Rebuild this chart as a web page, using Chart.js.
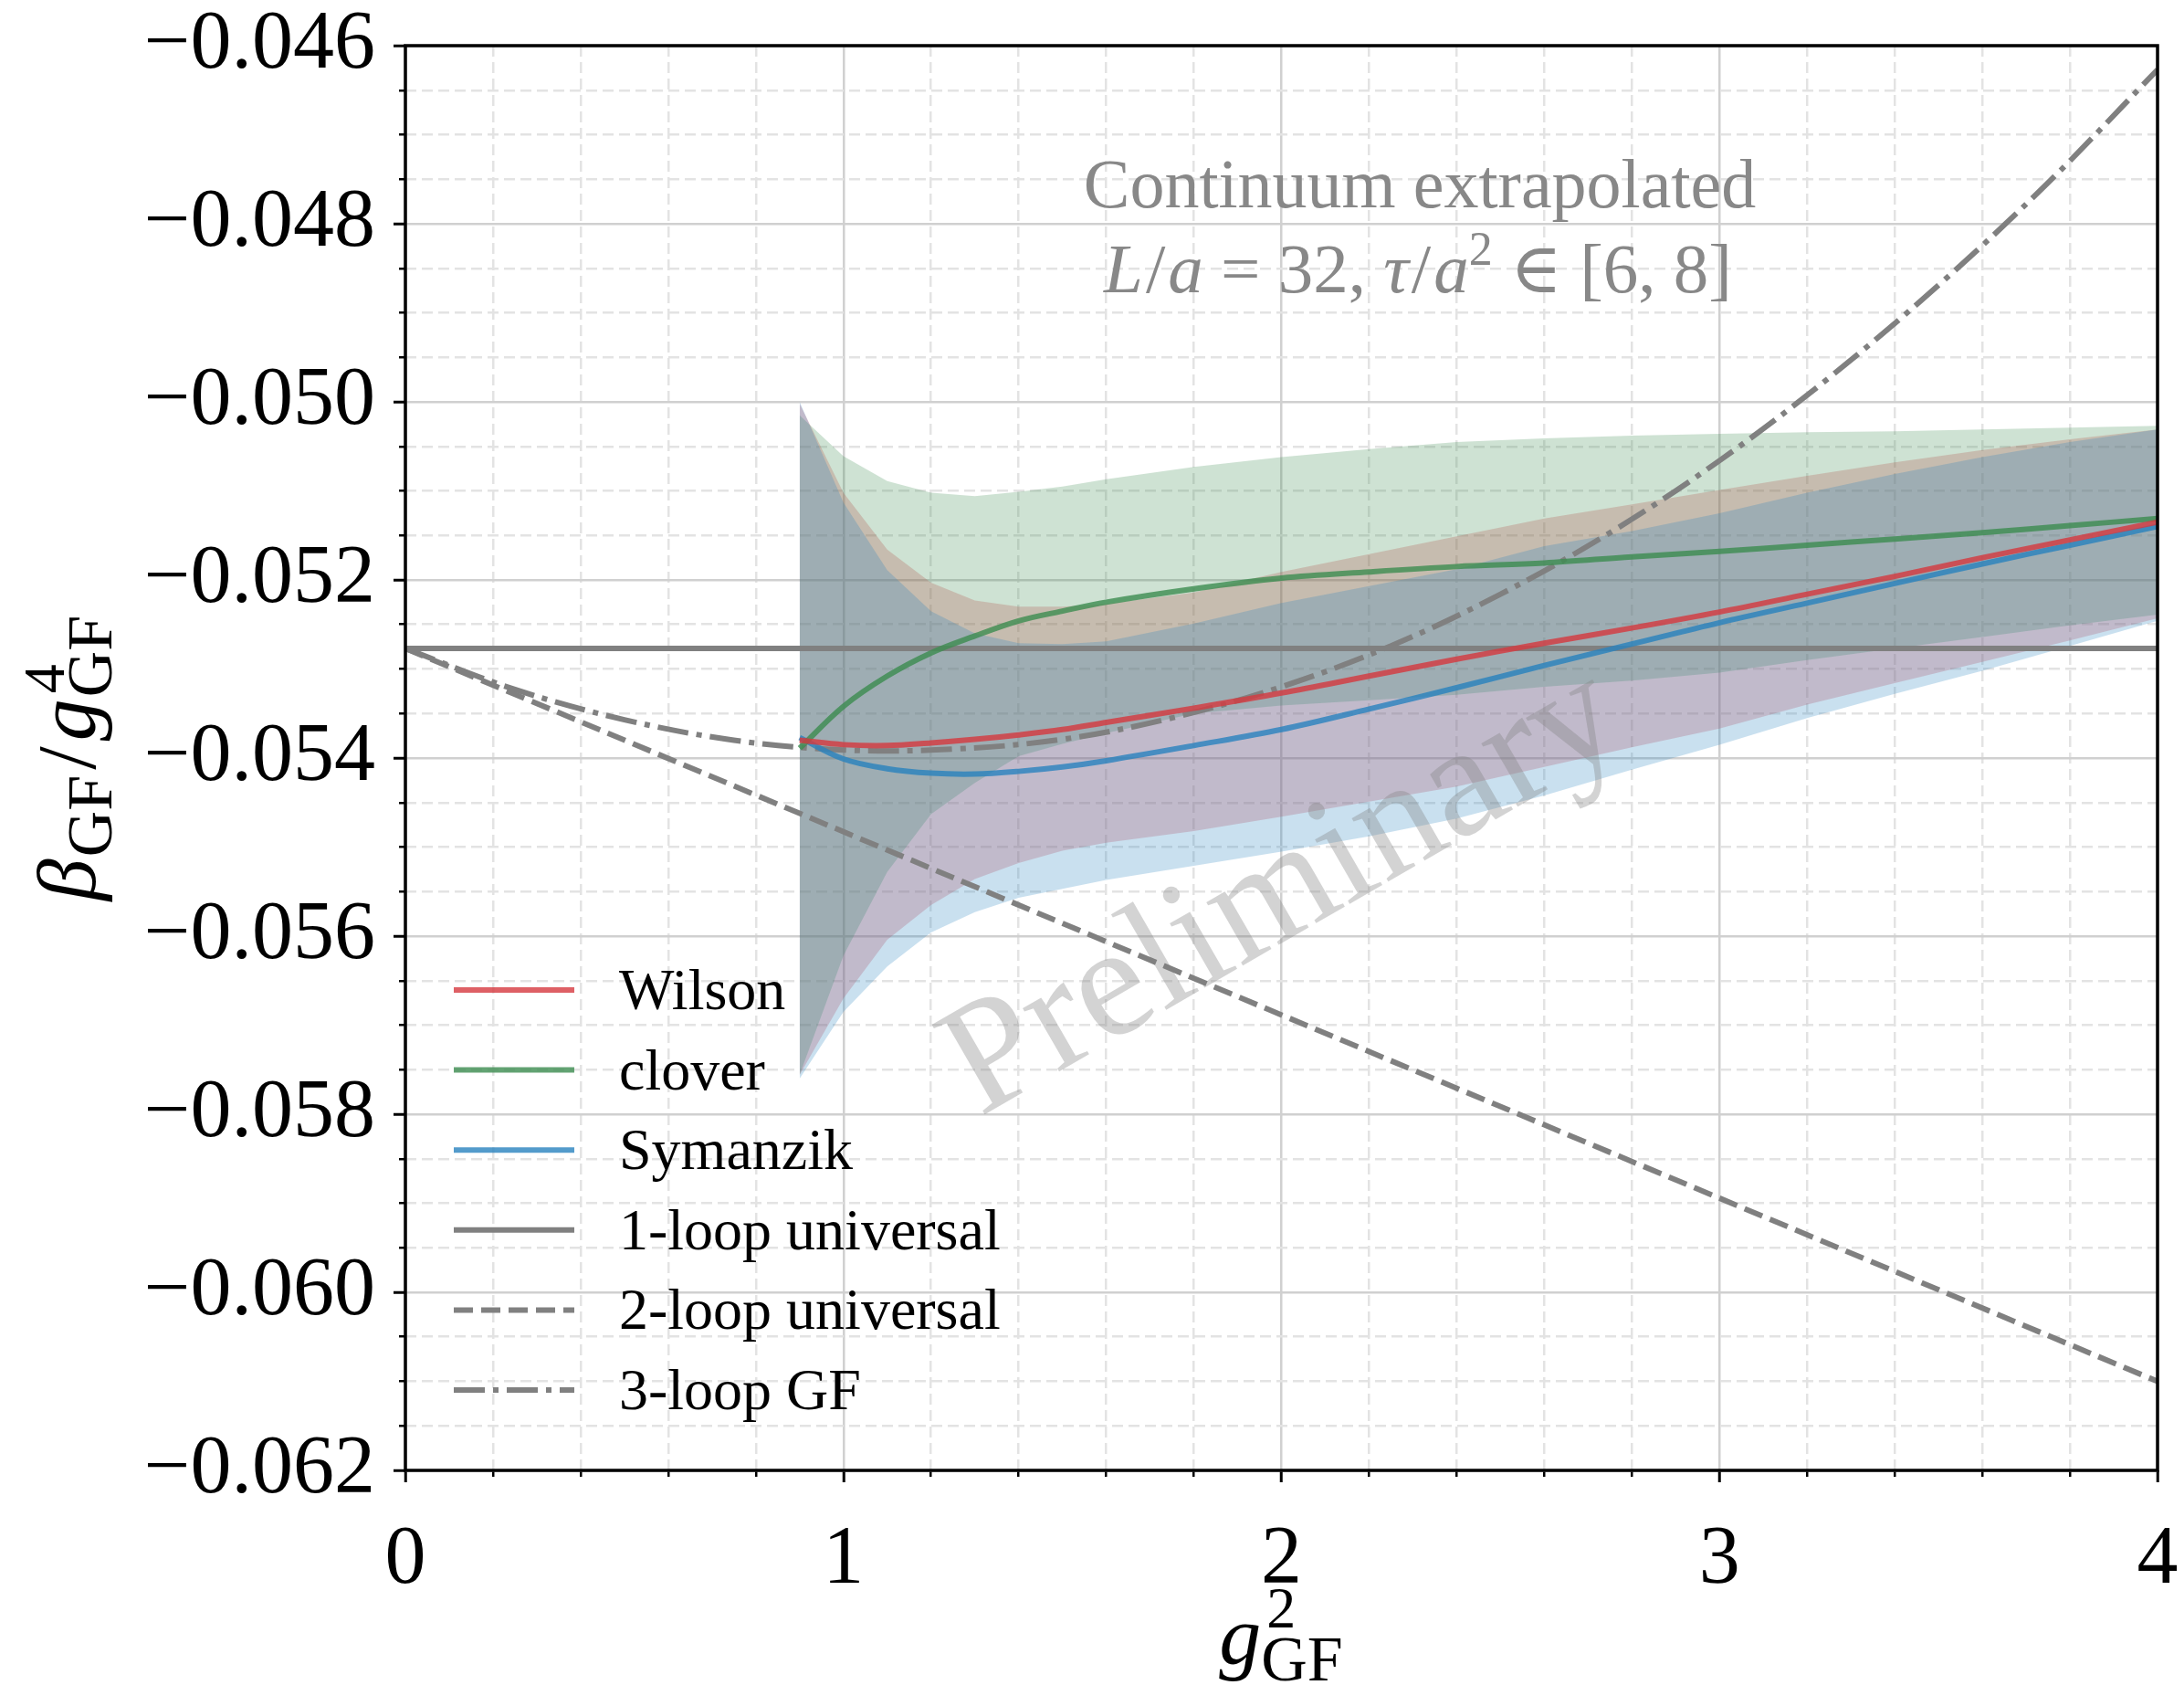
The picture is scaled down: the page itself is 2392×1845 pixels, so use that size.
<!DOCTYPE html>
<html>
<head>
<meta charset="utf-8">
<script src="https://cdn.jsdelivr.net/npm/chart.js@4.4.0/dist/chart.umd.min.js"></script>
<style>
  html, body { margin: 0; padding: 0; background: #fff; }
  canvas { display: block; }
</style>
</head>
<body>
<canvas id="betaChart" width="2392" height="1845"></canvas>
<script>
// 横軸 g^2_GF の点
var gsq = [0.9, 1.0, 1.1, 1.2, 1.3, 1.4, 1.5, 1.6, 1.8, 2.0, 2.2, 2.4, 2.6, 2.8, 3.0, 3.2, 3.4, 3.6, 3.8, 4.0];

// Wilson (中心値と誤差帯の上下)
var wilson   = [-0.05380, -0.05385, -0.05386, -0.05383, -0.05379, -0.05374, -0.05368, -0.05360, -0.05344, -0.05327, -0.05308, -0.05289, -0.05271, -0.05254, -0.05236, -0.05216, -0.05196, -0.05175, -0.05155, -0.05135];
var wilsonHi = [-0.05002, -0.05102, -0.05166, -0.05203, -0.05223, -0.05230, -0.05230, -0.05227, -0.05214, -0.05191, -0.05171, -0.05151, -0.05131, -0.05115, -0.05099, -0.05083, -0.05068, -0.05054, -0.05042, -0.05031];
var wilsonLo = [-0.05756, -0.05670, -0.05604, -0.05565, -0.05536, -0.05518, -0.05504, -0.05495, -0.05482, -0.05466, -0.05449, -0.05432, -0.05410, -0.05388, -0.05367, -0.05340, -0.05316, -0.05292, -0.05268, -0.05243];

// clover
var clover   = [-0.05389, -0.05342, -0.05308, -0.05282, -0.05263, -0.05246, -0.05235, -0.05225, -0.05210, -0.05198, -0.05191, -0.05185, -0.05181, -0.05174, -0.05168, -0.05161, -0.05154, -0.05147, -0.05139, -0.05131];
var cloverHi = [-0.05015, -0.05061, -0.05089, -0.05102, -0.05106, -0.05101, -0.05095, -0.05087, -0.05073, -0.05062, -0.05053, -0.05045, -0.05041, -0.05038, -0.05036, -0.05034, -0.05033, -0.05031, -0.05029, -0.05027];
var cloverLo = [-0.05756, -0.05622, -0.05528, -0.05463, -0.05428, -0.05398, -0.05384, -0.05372, -0.05350, -0.05341, -0.05335, -0.05329, -0.05320, -0.05313, -0.05304, -0.05290, -0.05277, -0.05264, -0.05251, -0.05239];

// Symanzik
var symanzik   = [-0.05377, -0.05401, -0.05412, -0.05417, -0.05418, -0.05415, -0.05410, -0.05403, -0.05386, -0.05368, -0.05345, -0.05321, -0.05296, -0.05272, -0.05248, -0.05226, -0.05204, -0.05182, -0.05161, -0.05140];
var symanzikHi = [-0.05000, -0.05113, -0.05189, -0.05235, -0.05260, -0.05271, -0.05272, -0.05269, -0.05249, -0.05226, -0.05207, -0.05188, -0.05162, -0.05145, -0.05125, -0.05102, -0.05081, -0.05062, -0.05045, -0.05031];
var symanzikLo = [-0.05760, -0.05685, -0.05634, -0.05596, -0.05573, -0.05557, -0.05547, -0.05537, -0.05521, -0.05505, -0.05488, -0.05468, -0.05442, -0.05413, -0.05385, -0.05355, -0.05328, -0.05302, -0.05274, -0.05246];

// 摂動論
var pertX   = [0, 4];
var oneLoop = [-0.05277, -0.05277];
var twoLoop = [-0.05277, -0.06100];
var threeX    = [0, 0.25, 0.5, 0.75, 1.0, 1.25, 1.5, 1.75, 2.0, 2.25, 2.5, 2.75, 3.0, 3.25, 3.5, 3.75, 4.0];
var threeLoop = [-0.05277, -0.05323, -0.05357, -0.05380, -0.05391, -0.05390, -0.05379, -0.05355, -0.05320, -0.05274, -0.05216, -0.05147, -0.05066, -0.04973, -0.04869, -0.04754, -0.04627];

// 目盛り
var xTicks = [0, 1, 2, 3, 4];
var yTicks = [-0.062, -0.060, -0.058, -0.056, -0.054, -0.052, -0.050, -0.048, -0.046];

var SERIF = '"Liberation Serif", "DejaVu Serif", serif';
var RED   = 'rgba(214,56,62,0.8)';
var GREEN = 'rgba(60,140,80,0.8)';
var BLUE  = 'rgba(40,130,190,0.8)';
var GRAY  = '#808080';

function pts(xs, ys) {
  return xs.map(function (x, i) { return { x: x, y: ys[i] }; });
}

function lineSet(label, xs, ys, color, dash, order) {
  return {
    label: label, data: pts(xs, ys),
    borderColor: color, borderWidth: 6, borderDash: dash || [],
    pointRadius: 0, fill: false, order: order,
    tension: 0.35
  };
}

// 誤差帯: 上側を次のデータセット(下側)まで塗る
function bandSets(ys1, ys2, color, order) {
  return [
    { isBand: true, data: pts(gsq, ys1), borderWidth: 0, pointRadius: 0,
      backgroundColor: color, fill: '+1', order: order, tension: 0 },
    { isBand: true, data: pts(gsq, ys2), borderWidth: 0, pointRadius: 0,
      fill: false, order: order, tension: 0 }
  ];
}

var datasets = [
  lineSet('Wilson', gsq, wilson, RED, null, 1),
  lineSet('clover', gsq, clover, GREEN, null, 1),
  lineSet('Symanzik', gsq, symanzik, BLUE, null, 1),
  lineSet('1-loop universal', pertX, oneLoop, GRAY, null, 2),
  lineSet('2-loop universal', pertX, twoLoop, GRAY, [21, 9], 2),
  lineSet('3-loop GF', threeX, threeLoop, GRAY, [34, 9, 6, 9], 2)
].concat(
  bandSets(symanzikHi, symanzikLo, 'rgba(40,130,190,0.25)', 10),
  bandSets(cloverHi, cloverLo, 'rgba(60,140,80,0.25)', 20),
  bandSets(wilsonHi, wilsonLo, 'rgba(214,56,62,0.25)', 30)
);

// 上付き・下付きを含むテキストを部品ごとに描く
function richText(ctx, parts, cx, baseY) {
  var total = 0;
  parts.forEach(function (p) {
    var items = p.stack || [p];
    p.w = 0;
    items.forEach(function (q) {
      ctx.font = q.font;
      p.w = Math.max(p.w, ctx.measureText(q.t).width + (q.dx || 0));
    });
    total += p.w + (p.gap || 0);
  });
  var x = cx - total / 2;
  ctx.textAlign = 'left';
  ctx.textBaseline = 'alphabetic';
  parts.forEach(function (p) {
    (p.stack || [p]).forEach(function (q) {
      ctx.font = q.font;
      ctx.fillText(q.t, x + (q.dx || 0), baseY + (q.dy || 0));
    });
    x += p.w + (p.gap || 0);
  });
}
function rm(s) { return s + 'px ' + SERIF; }
function it(s) { return 'italic ' + s + 'px ' + SERIF; }

var decorPlugin = {
  id: 'decor',
  afterDatasetsDraw: function (chart) {
    var ctx = chart.ctx, a = chart.chartArea;
    ctx.save();

    // 透かし
    ctx.save();
    ctx.translate(1429, 1018);
    ctx.rotate(-30 * Math.PI / 180);
    ctx.font = rm(174);
    ctx.fillStyle = 'rgba(128,128,128,0.35)';
    ctx.textAlign = 'center';
    ctx.textBaseline = 'alphabetic';
    ctx.fillText('Preliminary', 0, 0);
    ctx.restore();

    // 注記
    ctx.fillStyle = '#888888';
    ctx.font = rm(76);
    ctx.textAlign = 'center';
    ctx.textBaseline = 'alphabetic';
    ctx.fillText('Continuum extrapolated', 1555, 227);
    richText(ctx, [
      { t: 'L', font: it(77), gap: 3 }, { t: '/', font: rm(77), gap: 3 }, { t: 'a', font: it(77) },
      { t: ' = 32, ', font: rm(77) },
      { t: '\u03c4', font: it(77), gap: 3 }, { t: '/', font: rm(77), gap: 3 }, { t: 'a', font: it(77) },
      { t: '2', font: rm(52), dy: -30 },
      { t: ' \u2208 [6, 8]', font: rm(77) }
    ], 1553, 320);

    // 凡例
    var rows = chart.data.datasets.filter(function (d) { return !d.isBand; });
    rows.forEach(function (d, i) {
      var y = 1084 + i * 87.6;
      ctx.save();
      ctx.strokeStyle = d.borderColor;
      ctx.lineWidth = d.borderWidth;
      ctx.setLineDash(d.borderDash);
      ctx.beginPath();
      ctx.moveTo(497, y);
      ctx.lineTo(629, y);
      ctx.stroke();
      ctx.restore();
      ctx.fillStyle = '#000';
      ctx.font = rm(64);
      ctx.textAlign = 'left';
      ctx.fillText(d.label, 678, y + 21);
    });

    // 枠
    ctx.strokeStyle = '#000';
    ctx.lineWidth = 3.5;
    ctx.setLineDash([]);
    ctx.strokeRect(a.left, a.top, a.right - a.left, a.bottom - a.top);

    // 軸ラベル
    ctx.fillStyle = '#000';
    richText(ctx, [
      { t: 'g', font: it(92) },
      { stack: [{ t: '2', font: rm(64), dy: -40, dx: 6 }, { t: 'GF', font: rm(70), dy: 18 }] }
    ], 1403, 1822);

    ctx.save();
    ctx.translate(104, 830);
    ctx.rotate(-Math.PI / 2);
    richText(ctx, [
      { t: '\u03b2', font: it(92), gap: 2 },
      { t: 'GF', font: rm(70), dy: 18, gap: 6 },
      { t: '/', font: rm(92), gap: 6 },
      { t: 'g', font: it(92), gap: 2 },
      { stack: [{ t: '4', font: rm(64), dy: -34, dx: 4 }, { t: 'GF', font: rm(70), dy: 18 }] }
    ], 0, 0);
    ctx.restore();

    ctx.restore();
  }
};

function isMajorX(c) {
  return c.tick && Math.abs(c.tick.value - Math.round(c.tick.value)) < 1e-6;
}
function isMajorY(c) {
  return c.tick && Math.abs(c.tick.value / 0.002 - Math.round(c.tick.value / 0.002)) < 1e-6;
}

var chart = new Chart(document.getElementById('betaChart'), {
  type: 'line',
  data: { datasets: datasets },
  options: {
    responsive: false,
    animation: false,
    layout: { padding: { top: 50, right: 29, left: 0, bottom: 0 } },
    plugins: {
      legend: { display: false },
      tooltip: { enabled: false },
      filler: { propagate: false }
    },
    scales: {
      x: {
        type: 'linear', position: 'bottom', min: 0, max: 4, weight: 1,
        afterBuildTicks: function (s) { s.ticks = xTicks.map(function (v) { return { value: v }; }); },
        afterFit: function (s) { s.height = 235; s.paddingLeft = 0; s.paddingRight = 0; },
        grid: { color: '#d0d0d0', lineWidth: 2.5, tickLength: 13, tickColor: '#000', tickWidth: 3 },
        border: { display: false },
        ticks: {
          font: { family: SERIF, size: 90 }, color: '#000', padding: 32,
          autoSkip: false, maxRotation: 0,
          callback: function (v) { return String(v); }
        }
      },
      xMinor: {
        type: 'linear', position: 'bottom', min: 0, max: 4, weight: 0,
        afterFit: function (s) { s.height = 0; s.paddingLeft = 0; s.paddingRight = 0; },
        grid: {
          color: function (c) { return isMajorX(c) ? 'rgba(0,0,0,0)' : '#e3e3e3'; },
          tickColor: function (c) { return isMajorX(c) ? 'rgba(0,0,0,0)' : '#000'; },
          lineWidth: 2.5, tickLength: 7, tickWidth: 2.5
        },
        border: { display: false, dash: [12, 6] },
        ticks: { stepSize: 0.2, display: false }
      },
      y: {
        type: 'linear', position: 'left', min: -0.062, max: -0.046, weight: 1,
        afterBuildTicks: function (s) { s.ticks = yTicks.map(function (v) { return { value: v }; }); },
        afterFit: function (s) { s.width = 444; s.paddingTop = 0; s.paddingBottom = 0; },
        grid: { color: '#d0d0d0', lineWidth: 2.5, tickLength: 13, tickColor: '#000', tickWidth: 3 },
        border: { display: false },
        ticks: {
          font: { family: SERIF, size: 90 }, color: '#000', padding: 20, autoSkip: false,
          callback: function (v) { return '\u2212' + Math.abs(v).toFixed(3); }
        }
      },
      yMinor: {
        type: 'linear', position: 'left', min: -0.062, max: -0.046, weight: 0,
        afterFit: function (s) { s.width = 0; s.paddingTop = 0; s.paddingBottom = 0; },
        grid: {
          color: function (c) { return isMajorY(c) ? 'rgba(0,0,0,0)' : '#e3e3e3'; },
          tickColor: function (c) { return isMajorY(c) ? 'rgba(0,0,0,0)' : '#000'; },
          lineWidth: 2.5, tickLength: 7, tickWidth: 2.5
        },
        border: { display: false, dash: [12, 6] },
        ticks: { stepSize: 0.0005, display: false }
      }
    }
  },
  plugins: [decorPlugin]
});
</script>
</body>
</html>
